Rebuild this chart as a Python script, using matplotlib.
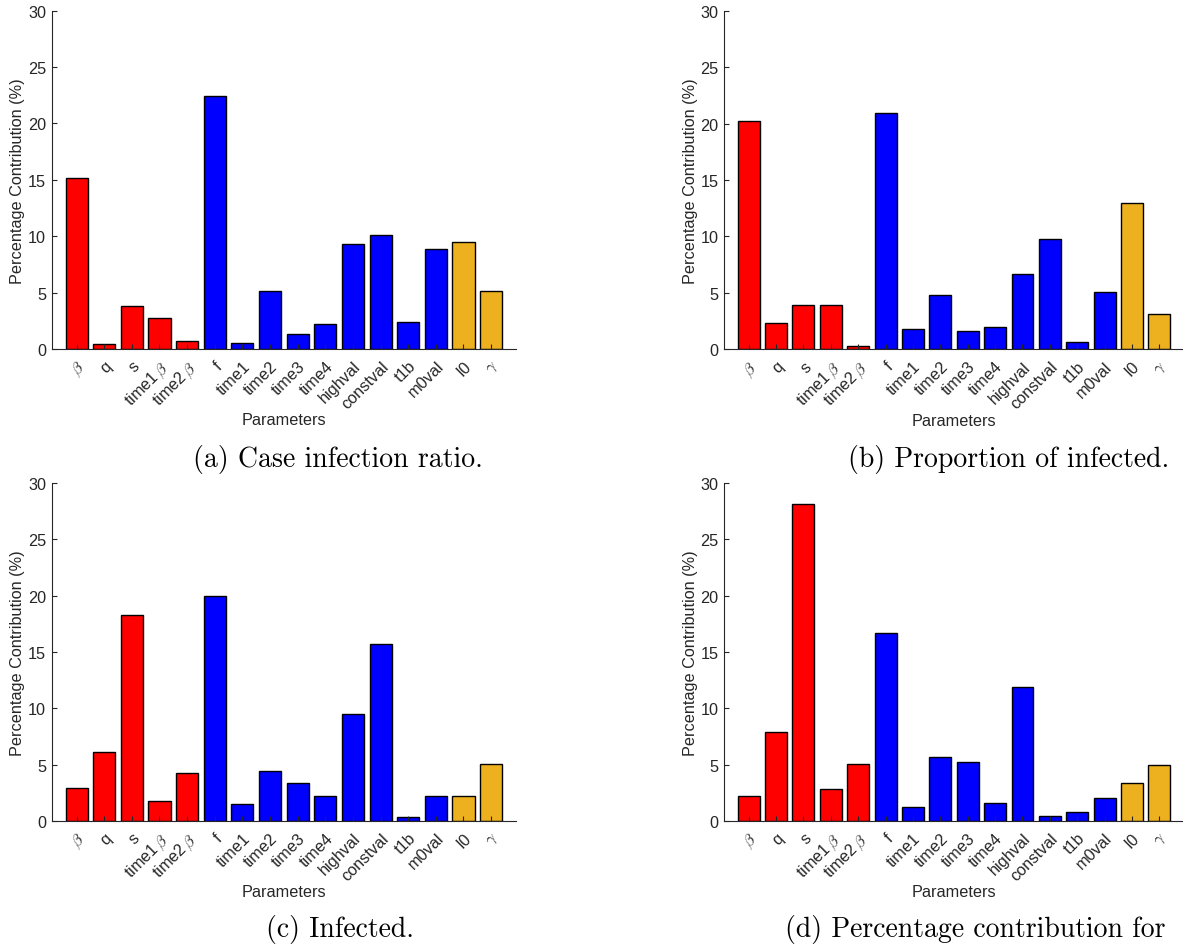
import matplotlib
matplotlib.use("Agg")
import matplotlib.pyplot as plt

plt.rcParams['font.family'] = ['Liberation Sans', 'DejaVu Sans']
plt.rcParams['mathtext.fontset'] = 'cm'

params = [r'$\beta$', 'q', 's', r'time1$\,\beta$', r'time2$\,\beta$', 'f',
          'time1', 'time2', 'time3', 'time4', 'highval', 'constval',
          't1b', 'm0val', 'I0', r'$\gamma$']

case_ratio = [15.15, 0.45, 3.8, 2.72, 0.68, 22.4, 0.5, 5.1, 1.36, 2.25,
              9.35, 10.15, 2.35, 8.85, 9.5, 5.1]
prop_infected = [20.25, 2.36, 3.9, 3.95, 0.3, 20.93, 1.8, 4.78, 1.6, 1.95,
                 6.7, 9.77, 0.62, 5.05, 12.93, 3.1]
infected = [2.9, 6.09, 18.31, 1.75, 4.29, 19.97, 1.51, 4.41, 3.4, 2.22,
            9.53, 15.71, 0.36, 2.25, 2.25, 5.05]
contribution = [2.22, 7.93, 28.17, 2.84, 5.06, 16.72, 1.21, 5.71, 5.21, 1.57,
                11.86, 0.47, 0.83, 2.01, 3.34, 4.94]

captions = ['(a) Case infection ratio.', '(b) Proportion of infected.',
            '(c) Infected.', '(d) Percentage contribution for']

# parameter groups: 5 red, 9 blue, 2 orange
group_sizes = [5, 9, 2]
group_colors = ['#ff0000', '#0000ff', '#edb120']
colors = []
for n, c in zip(group_sizes, group_colors):
    colors += [c] * n

W, H = 1183, 945
fig = plt.figure(figsize=(W / 100, H / 100), dpi=100)

# axes boxes in pixels: left, top, right, bottom
boxes = [(51.7, 11.7, 516, 350), (724, 11.7, 1184, 350.3),
         (51.7, 484, 516, 822), (724, 484, 1184, 822)]
caption_pos = [(338, 459), (1009, 459), (340, 930), (975, 930)]
datasets = [case_ratio, prop_infected, infected, contribution]

txt = '#262626'
x = list(range(1, len(params) + 1))
for (l, t, r, b), data, cap, (cx, cy) in zip(boxes, datasets, captions, caption_pos):
    ax = fig.add_axes([l / W, 1 - b / H, (r - l) / W, (b - t) / H])
    ax.bar(x, data, width=0.8, color=colors, edgecolor='black', linewidth=1.0)
    ax.set_xlim(0.1, 16.9)
    ax.set_ylim(0, 30)
    ax.set_yticks([0, 5, 10, 15, 20, 25, 30])
    ax.set_xticks(x)
    ax.set_xticklabels(params, rotation=45, ha='right', va='top',
                       rotation_mode='anchor')
    ax.tick_params(direction='in', length=3.5, width=0.8, colors=txt,
                   labelsize=11.7, labelcolor=txt)
    ax.tick_params(axis='x', pad=6.5)
    ax.tick_params(axis='y', pad=4)
    for s in ['top', 'right']:
        ax.spines[s].set_visible(False)
    for s in ['left', 'bottom']:
        ax.spines[s].set_color(txt)
        ax.spines[s].set_linewidth(0.8)
    ax.set_ylabel('Percentage Contribution (%)', fontsize=11.7, color=txt)
    ax.yaxis.set_label_coords(-0.057, 0.5)
    ax.set_xlabel('Parameters', fontsize=11.7, color=txt)
    ax.xaxis.set_label_coords(0.5, -0.187)
    fig.text(cx / W, 1 - cy / H, cap, fontfamily='cmr10', fontsize=20,
             ha='center', va='center', color='black')

fig.savefig('out.png', dpi=100)
